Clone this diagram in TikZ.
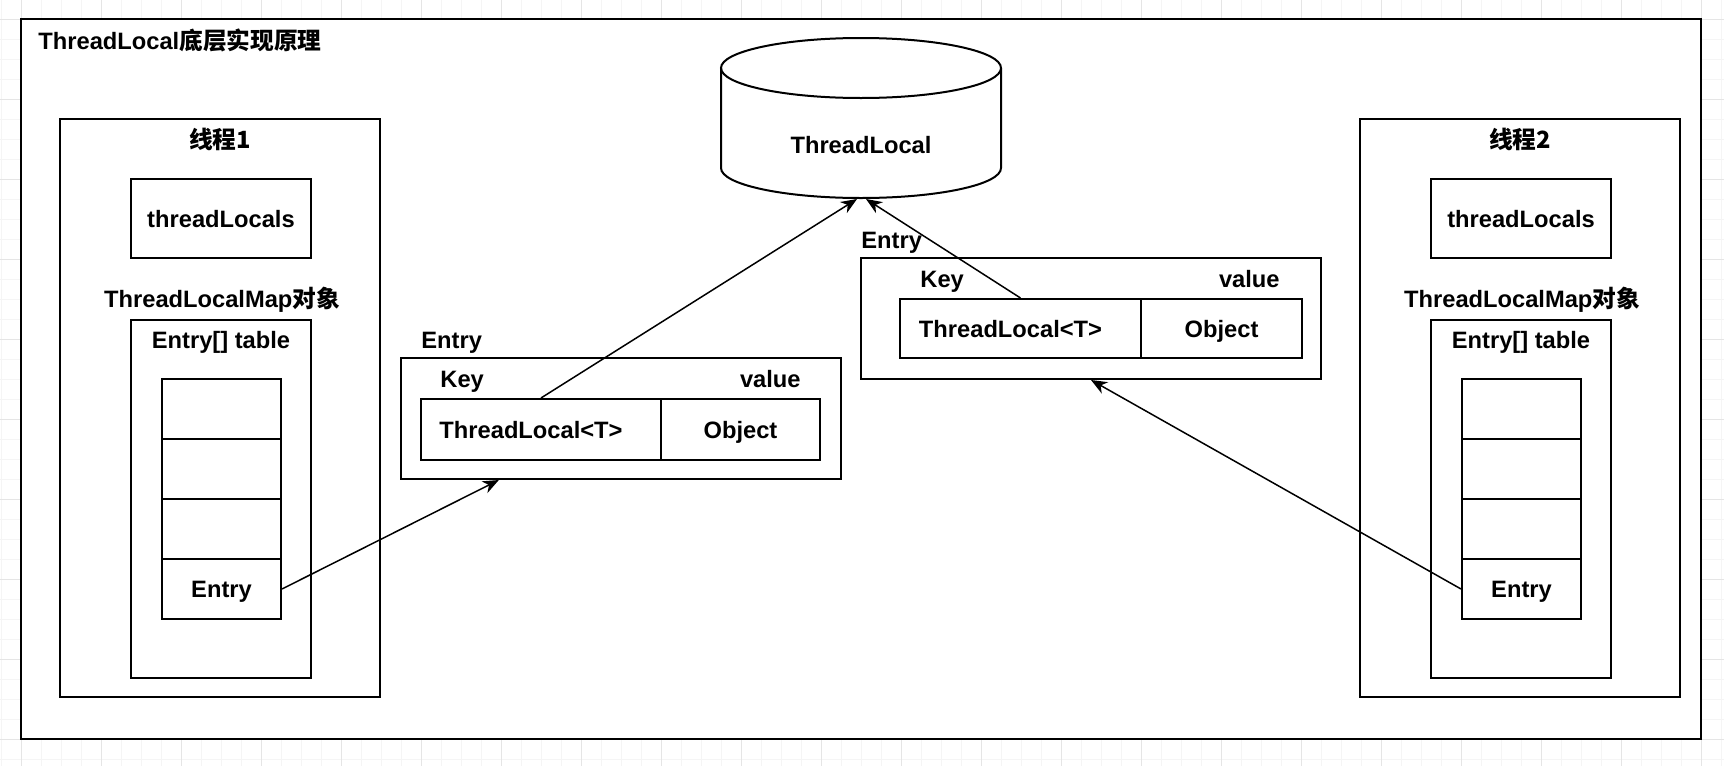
\documentclass[tikz,border=0pt]{standalone}
\usepackage{fontspec}
\setmainfont{Liberation Sans}
\newfontfamily\cjk{Noto Sans CJK SC}
\usetikzlibrary{arrows.meta, positioning, fit}

\tikzset{
  box/.style={draw, line width=1pt, inner sep=0pt},
  cell/.style={draw, line width=1pt, inner sep=0pt, minimum width=59.5pt, minimum height=30pt},
  txt/.style={inner sep=0pt, text height=8.5pt, text depth=0pt, font=\fontsize{11.85pt}{14pt}\selectfont\bfseries},
  conn/.style={line width=0.75pt, -{Stealth[length=8pt, width=6.5pt, inset=2.5pt]}},
  gridminor/.style={line width=0.5pt, black!4},
  gridmajor/.style={line width=0.5pt, black!10}
}

\begin{document}
\begin{tikzpicture}[x=0.5pt, y=-0.5pt]
\useasboundingbox (0,0) rectangle (1724,766);

% background grid
\foreach \x in {1,21,...,1721} \draw[gridminor] (\x,0) -- (\x,766);
\foreach \y in {19,39,...,759} \draw[gridminor] (0,\y) -- (1724,\y);
\foreach \x in {21,101,...,1701} \draw[gridmajor] (\x,0) -- (\x,766);
\foreach \y in {19,99,...,739} \draw[gridmajor] (0,\y) -- (1724,\y);

% frame
\node[box, fill=white, fit={(21,19) (1701,739)}] (frame) {};
\node[txt, anchor=west] (title) at (38,41) {ThreadLocal{\cjk 底层实现原理}};

% threads
\foreach \n/\dx in {1/0, 2/1300} {
  \node[box, fit={(60+\dx,119) (380+\dx,697)}] (t\n) {};
  \node[txt] (t\n name) at (220+\dx,140) {\cjk 线程\n};
  \node[box, fit={(131+\dx,179) (311+\dx,258)}, label={[txt]center:threadLocals}] (tl\n) {};
  \node[txt] (map\n) at (222+\dx,299) {ThreadLocalMap{\cjk 对象}};
  \node[box, fit={(131+\dx,320) (311+\dx,678)}] (tab\n) {};
  \node[txt] (tab\n name) at (221+\dx,340) {Entry[] table};
  \foreach \i in {0,1,2} \node[cell] (c\n\i) at (221.5+\dx,409+60*\i) {};
  \node[cell, txt] (e\n) at (221.5+\dx,589) {Entry};
}

% ThreadLocal cylinder
\draw[line width=1pt, fill=white] (721,68) -- (721,168)
  arc[start angle=180, end angle=0, x radius=140, y radius=30] -- (1001,68);
\draw[line width=1pt] (861,68) ellipse[x radius=140, y radius=30];
\node[txt] (tl) at (861,145) {ThreadLocal};
\coordinate (tlbl) at (857,199);
\coordinate (tlbr) at (866,199);

% entry of thread 1
\node[txt, anchor=west] (en1name) at (421,340) {Entry};
\node[box, fit={(401,358) (841,479)}] (en1) {};
\node[txt, anchor=west] (key1) at (440,379) {Key};
\node[txt, anchor=east] (val1) at (801,379) {value};
\node[box, fit={(421,399) (661,460)}, label={[txt, xshift=-5pt]center:ThreadLocal<T>}] (k1) {};
\node[box, fit={(661,399) (820,460)}, label={[txt]center:Object}] (o1) {};

% entry of thread 2
\node[txt, anchor=west] (en2name) at (861,240) {Entry};
\node[box, fit={(861,258) (1321,379)}] (en2) {};
\node[txt, anchor=west] (key2) at (920,279) {Key};
\node[txt, anchor=east] (val2) at (1280,279) {value};
\node[box, fit={(900,299) (1141,358)}, label={[txt, xshift=-5pt]center:ThreadLocal<T>}] (k2) {};
\node[box, fit={(1141,299) (1302,358)}, label={[txt]center:Object}] (o2) {};

% references
\draw[conn] (e1.east) -- (en1);
\draw[conn] (k1.north) -- (tlbl);
\draw[conn] (k2.north) -- (tlbr);
\draw[conn] (e2.west) -- (en2.south);
\end{tikzpicture}
\end{document}
